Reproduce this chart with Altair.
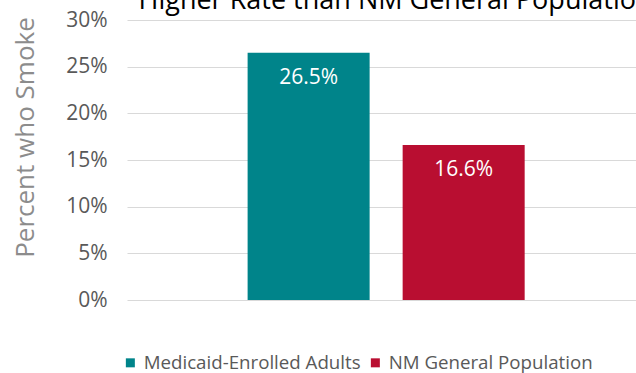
import altair as alt
import pandas as pd

series = ["Medicaid-Enrolled Adults", "NM General Population"]
values = [26.5, 16.6]
labels = ["26.5%", "16.6%"]
colors = ["#00848A", "#B90E31"]
y_ticks = [0, 5, 10, 15, 20, 25, 30]

df = pd.DataFrame({"series": series, "value": values, "label": labels})

FONT = "Open Sans"

base = alt.Chart(df).encode(
    x=alt.X("series:N", sort=series, axis=None,
            scale=alt.Scale(paddingInner=0.213, paddingOuter=0.748, align=0.52)),
)

bars = base.mark_bar().encode(
    y=alt.Y("value:Q", scale=alt.Scale(domain=[0, 30], nice=False),
            axis=alt.Axis(values=y_ticks, labelExpr="datum.value + '%'",
                          title="Percent who Smoke", titleX=-94, titleY=117,
                          titleAngle=-90, titleAlign="center", titleBaseline="alphabetic",
                          titleFont=FONT, titleFontSize=26, titleFontWeight="normal",
                          titleColor="#8C8C8C",
                          labelFont=FONT, labelFontSize=21, labelColor="#595959",
                          labelPadding=20, ticks=False, domain=False,
                          grid=True, gridColor="#D9D9D9", gridWidth=1)),
    color=alt.Color("series:N", sort=series,
                    scale=alt.Scale(domain=series, range=colors),
                    legend=alt.Legend(title=None, orient="none", direction="horizontal",
                                      legendX=-6, legendY=333,
                                      symbolType="square", symbolSize=81,
                                      symbolStrokeWidth=0, symbolOpacity=1,
                                      labelFont=FONT, labelFontSize=18.7, labelColor="#595959",
                                      labelLimit=0, labelOffset=4, columnPadding=5)),
)

text = base.mark_text(color="white", font=FONT, fontSize=21, baseline="alphabetic",
                      align="center", dy=31).encode(
    y=alt.Y("value:Q"),
    text="label:N",
)

chart = (bars + text).properties(
    width=509, height=280,
    autosize=alt.AutoSizeParams(type="none"),
    padding={"left": 127, "top": 20, "right": 0, "bottom": 73},
    title=alt.TitleParams("Higher Rate than NM General Population", font=FONT,
                          fontSize=27, fontWeight="normal", color="#000000",
                          anchor="middle", frame="group", baseline="alphabetic",
                          offset=0, dy=27, dx=14),
).configure_view(stroke=None)

chart.save("out.html", embed_options={"renderer": "svg", "actions": False})
